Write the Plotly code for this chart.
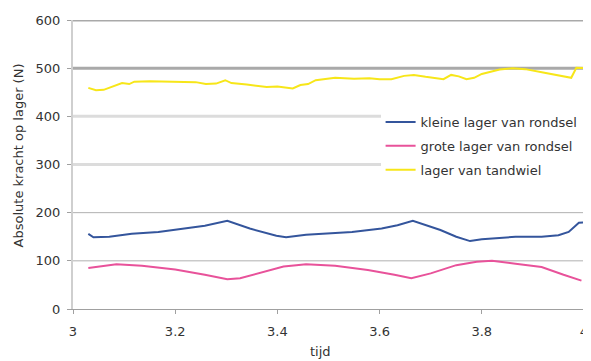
import plotly.graph_objects as go

# ---- data ----
x_tandwiel = [3.03, 3.045, 3.06, 3.08, 3.096, 3.11, 3.12, 3.15, 3.2, 3.24, 3.26, 3.28, 3.298, 3.31,
              3.34, 3.36, 3.379, 3.40, 3.43, 3.445, 3.46, 3.475, 3.513, 3.55, 3.58, 3.60, 3.623,
              3.648, 3.667, 3.69, 3.706, 3.725, 3.74, 3.755, 3.77, 3.785, 3.80, 3.835, 3.86, 3.885,
              3.92, 3.96, 3.975, 3.985, 4.0]
y_tandwiel = [459, 454, 455, 462, 469, 467, 472, 473, 472, 471, 467, 468, 475, 469,
              466, 463, 461, 462, 458, 465, 467, 475, 480, 478, 479, 477, 477,
              484, 486, 482, 479, 477, 486, 483, 477, 480, 488, 497, 500, 498,
              491, 484, 480, 501, 500]

x_klein = [3.03, 3.04, 3.071, 3.115, 3.167, 3.206, 3.258, 3.302, 3.346, 3.398, 3.417, 3.456, 3.50,
           3.546, 3.604, 3.635, 3.665, 3.719, 3.75, 3.777, 3.80, 3.866, 3.917, 3.95, 3.97, 3.99, 4.0]
y_klein = [156, 149, 150, 156, 160, 165, 173, 183, 167, 152, 149, 154, 157,
           160, 167, 174, 183, 164, 150, 141, 145, 150, 150, 153, 160, 179, 180]

x_groot = [3.03, 3.05, 3.085, 3.135, 3.2, 3.258, 3.302, 3.327, 3.373, 3.412, 3.437, 3.456, 3.513,
           3.577, 3.629, 3.662, 3.70, 3.75, 3.79, 3.82, 3.866, 3.917, 3.96, 3.995]
y_groot = [85, 88, 93, 90, 82, 71, 62, 64, 77, 88, 91, 93, 90,
           81, 71, 64, 74, 91, 98, 100, 94, 87, 71, 59]

series_names = ["kleine lager van rondsel", "grote lager van rondsel", "lager van tandwiel"]
x_ticks = [3, 3.2, 3.4, 3.6, 3.8, 4]
x_tick_labels = ["3", "3.2", "3.4", "3.6", "3.8", "4"]
y_ticks = [0, 100, 200, 300, 400, 500, 600]

FONT = "DejaVu Sans, Verdana, sans-serif"

fig = go.Figure()
fig.add_trace(go.Scatter(x=x_klein, y=y_klein, mode="lines", name=series_names[0],
                         legendgroup="a", line=dict(color="#34559c", width=2)))
fig.add_trace(go.Scatter(x=x_groot, y=y_groot, mode="lines", name=series_names[1],
                         legendgroup="b", line=dict(color="#e8529a", width=2)))
fig.add_trace(go.Scatter(x=x_tandwiel, y=y_tandwiel, mode="lines", name=series_names[2],
                         legendgroup="c", line=dict(color="#f7e619", width=2)))

# gridlines with the reference's varying appearance
grid_style = {600: ("#a9a9a9", 3), 500: ("#a9a9a9", 3), 400: ("#dcdcdc", 3),
              300: ("#dcdcdc", 3), 200: ("#b0b0b0", 1), 100: ("#b0b0b0", 1)}
for v in y_ticks[1:]:
    c, w = grid_style[v]
    fig.add_shape(type="line", xref="paper", yref="y", x0=0, x1=1, y0=v, y1=v,
                  line=dict(color=c, width=w), layer="below")

PW = 515  # plot width in px
# page body has an 8px margin; figure is sized so it ends near the window edge
fig.update_layout(
    width=65 + PW, height=353,
    margin=dict(l=65, r=0, t=12, b=52),
    paper_bgcolor="white", plot_bgcolor="white",
    font=dict(family=FONT, size=13, color="#333333"),
    showlegend=True,
    legend=dict(x=(383 - 73) / PW, y=(309 - 107) / 289, xanchor="left", yanchor="top",
                bgcolor="white", borderwidth=0, tracegroupgap=4, traceorder="grouped",
                font=dict(family=FONT, size=13, color="#333333")),
    xaxis=dict(range=[3, 4], tickvals=x_ticks, ticktext=x_tick_labels, showgrid=False,
               zeroline=False, showline=True, linecolor="#a0a0a0", linewidth=1,
               ticks="outside", ticklen=4, tickcolor="#a0a0a0", ticklabelstandoff=6,
               ticklabeloverflow="allow",
               tickfont=dict(family=FONT, size=13, color="#333333")),
    yaxis=dict(range=[0, 600], tickvals=y_ticks, showgrid=False, zeroline=False,
               showline=True, linecolor="#cfcfcf", linewidth=2,
               ticks="outside", ticklen=4, tickcolor="#a0a0a0", ticklabelstandoff=4,
               tickfont=dict(family=FONT, size=13, color="#333333")),
    annotations=[
        dict(text="Absolute kracht op lager (N)", xref="paper", yref="paper",
             x=(18 - 73) / PW, y=(309 - 155) / 289, textangle=-90, showarrow=False,
             xanchor="center", yanchor="middle", font=dict(family=FONT, size=13, color="#333333")),
        dict(text="tijd", xref="paper", yref="paper", x=(322 - 73) / PW, y=(309 - 351) / 289,
             showarrow=False, xanchor="center", yanchor="middle",
             font=dict(family=FONT, size=13, color="#333333")),
    ],
)

fig.write_html("out.html")
